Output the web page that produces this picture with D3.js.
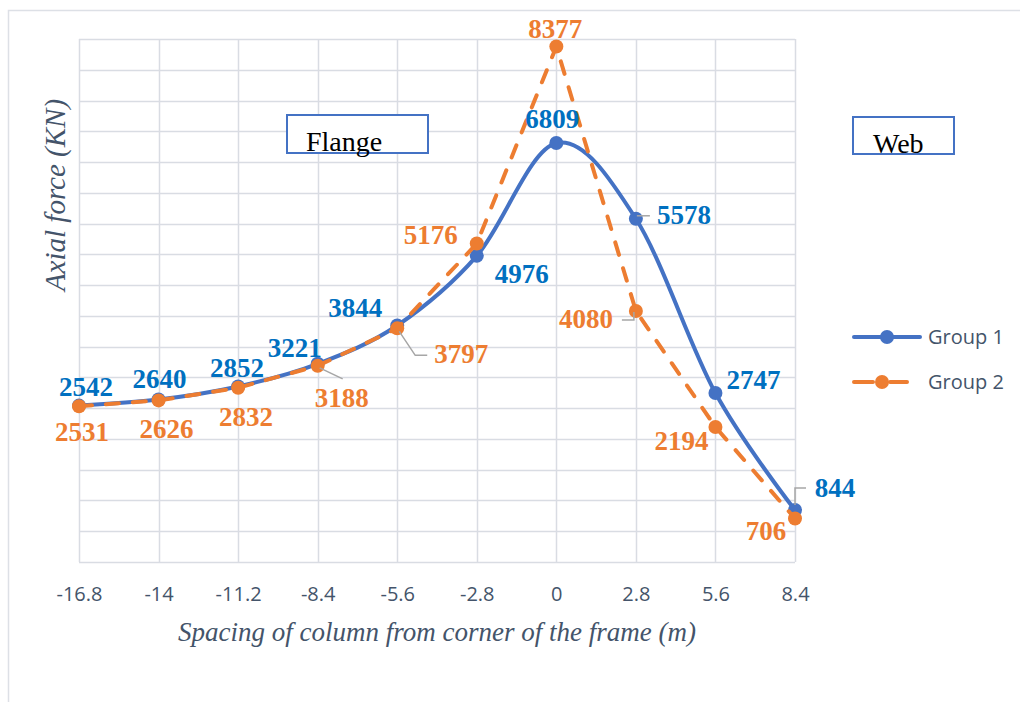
<!DOCTYPE html>
<html>
<head>
<meta charset="utf-8">
<script src="https://cdn.jsdelivr.net/npm/d3@7"></script>
<style>
	body { margin: 0; background: #fff; }
</style>
</head>
<body>
<div id="chart"></div>
<script>

// chart values
var categories = ["-16.8", "-14", "-11.2", "-8.4", "-5.6", "-2.8", "0", "2.8", "5.6", "8.4"];
var group1 = [2542, 2640, 2852, 3221, 3844, 4976, 6809, 5578, 2747, 844];
var group2 = [2531, 2626, 2832, 3188, 3797, 5176, 8377, 4080, 2194, 706];
var seriesNames = ["Group 1", "Group 2"];
var yTicks = d3.range(0, 8501, 500);

// label placement (offset from the point, px)
var labelOffsets1 = [[7,-10],[1,-12],[-1,-10],[-23,-7],[-42,-8],[45,27],[-4,-15],[48,5],[38,-4],[40,-13]];
var labelOffsets2 = [[3,35],[8,38],[8,38],[24,41],[64,35],[-46,0],[-1,-9],[-50,17],[-34,23],[-29,21]];
// leader lines, keyed by point index
var leaders1 = { 7: [[1,-3],[14,-3]], 9: [[0,-5],[0,-22],[11,-22]] };
var leaders2 = { 3: [[2,2],[25,13]], 4: [[2,3],[18,27],[30,27]], 7: [[-2,1],[-2,9],[-14,9]] };

var W = 1020, H = 702;
var blue = "#4472C4", orange = "#ED7D31";
var blueText = "#0070C0";
var gridColor = "#D9DCE3";
var axisText = "#44546A";

var svg = d3.select("#chart").append("svg")
	.attr("width", W)
	.attr("height", H);

// outer chart border
svg.append("path")
	.attr("d", "M8.5," + H + "V10.5H" + W)
	.attr("fill", "none")
	.attr("stroke", "#DDE0E6")
	.attr("stroke-width", 1.5);

var x = d3.scalePoint()
	.domain(categories)
	.range([79, 795]);

var y = d3.scaleLinear()
	.domain([0, 8500])
	.range([562, 39]);

// gridlines
svg.append("g")
	.selectAll("line")
	.data(yTicks)
	.join("line")
	.attr("x1", 79)
	.attr("x2", 795)
	.attr("y1", function(d){ return Math.round(y(d)) + 0.5; })
	.attr("y2", function(d){ return Math.round(y(d)) + 0.5; })
	.attr("stroke", gridColor)
	.attr("stroke-width", 1.5);

svg.append("g")
	.selectAll("line")
	.data(categories)
	.join("line")
	.attr("x1", function(d){ return Math.round(x(d)) + 0.5; })
	.attr("x2", function(d){ return Math.round(x(d)) + 0.5; })
	.attr("y1", y(8500))
	.attr("y2", y(0))
	.attr("stroke", gridColor)
	.attr("stroke-width", 1.5);

// x axis tick labels
var xAxis = d3.axisBottom(x).tickSize(0).tickPadding(0);
var xg = svg.append("g")
	.attr("transform", "translate(0,587)")
	.call(xAxis);
xg.select(".domain").remove();
xg.selectAll("text")
	.attr("font-family", "'Open Sans', sans-serif")
	.attr("font-size", 20)
	.attr("fill", axisText)
	.attr("dy", "0.71em");

// axis titles
svg.append("text")
	.attr("x", 437)
	.attr("y", 641)
	.attr("text-anchor", "middle")
	.attr("font-family", "'Liberation Serif', serif")
	.attr("font-style", "italic")
	.attr("font-size", 27)
	.attr("fill", "#44546A")
	.text("Spacing of column from corner of the frame (m)");

svg.append("text")
	.attr("transform", "translate(65,195) rotate(-90)")
	.attr("text-anchor", "middle")
	.attr("font-family", "'Liberation Serif', serif")
	.attr("font-style", "italic")
	.attr("font-size", 29)
	.attr("fill", "#44546A")
	.text("Axial force (KN)");

// text boxes
function textBox(bx, by, bw, bh, label, tx, ty){
	svg.append("rect")
		.attr("x", bx)
		.attr("y", by)
		.attr("width", bw)
		.attr("height", bh)
		.attr("fill", "#fff")
		.attr("stroke", blue)
		.attr("stroke-width", 2);
	svg.append("text")
		.attr("x", tx)
		.attr("y", ty)
		.attr("font-family", "'Liberation Serif', serif")
		.attr("font-size", 28)
		.attr("fill", "#000")
		.text(label);
}
textBox(287, 115, 141, 38, "Flange", 306, 151);
textBox(853, 117, 101, 37, "Web", 873, 153);

// series
var line1 = d3.line()
	.x(function(d, i){ return x(categories[i]); })
	.y(function(d){ return y(d); })
	.curve(d3.curveCardinal.tension(0));

var line2 = d3.line()
	.x(function(d, i){ return x(categories[i]); })
	.y(function(d){ return y(d); });

var markLayer = svg.append("g");
var labelLayer = svg.append("g");

function drawSeries(values, lineGen, color, dash, labelColor, offsets, leaders){
	var g = markLayer.append("g");
	g.append("path")
		.datum(values)
		.attr("d", lineGen)
		.attr("fill", "none")
		.attr("stroke", color)
		.attr("stroke-width", 4)
		.attr("stroke-linecap", dash ? "round" : "butt")
		.attr("stroke-dasharray", dash);

	g.selectAll("circle")
		.data(values)
		.join("circle")
		.attr("cx", function(d, i){ return x(categories[i]); })
		.attr("cy", function(d){ return y(d); })
		.attr("r", 7)
		.attr("fill", color);

	// leader lines
	Object.keys(leaders).forEach(function(k){
		var i = +k;
		var px = x(categories[i]), py = y(values[i]);
		labelLayer.append("polyline")
			.attr("points", leaders[k].map(function(p){ return (px + p[0]) + "," + (py + p[1]); }).join(" "))
			.attr("fill", "none")
			.attr("stroke", "#A6A6A6")
			.attr("stroke-width", 1.5);
	});

	labelLayer.append("g")
		.selectAll("text")
		.data(values)
		.join("text")
		.attr("x", function(d, i){ return x(categories[i]) + offsets[i][0]; })
		.attr("y", function(d, i){ return y(d) + offsets[i][1]; })
		.attr("text-anchor", "middle")
		.attr("font-family", "'Liberation Serif', serif")
		.attr("font-weight", "bold")
		.attr("font-size", 27)
		.attr("fill", labelColor)
		.text(function(d){ return d; });
}

drawSeries(group1, line1, blue, null, blueText, labelOffsets1, leaders1);
drawSeries(group2, line2, orange, "13,14", orange, labelOffsets2, leaders2);

// legend
var legend = svg.append("g");
var legendRows = [
	{ name: seriesNames[0], color: blue, dash: null, y: 337 },
	{ name: seriesNames[1], color: orange, dash: "19,17", y: 382 }
];
legendRows.forEach(function(r){
	legend.append("line")
		.attr("x1", 854)
		.attr("x2", r.dash ? 907 : 920)
		.attr("y1", r.y)
		.attr("y2", r.y)
		.attr("stroke", r.color)
		.attr("stroke-width", 4)
		.attr("stroke-linecap", "round")
		.attr("stroke-dasharray", r.dash);
	legend.append("circle")
		.attr("cx", r.dash ? 882 : 887)
		.attr("cy", r.y)
		.attr("r", 7)
		.attr("fill", r.color);
	legend.append("text")
		.attr("x", 928)
		.attr("y", r.y + 7)
		.attr("font-family", "'Open Sans', sans-serif")
		.attr("font-size", 20)
		.attr("fill", axisText)
		.text(r.name);
});

</script>
</body>
</html>
